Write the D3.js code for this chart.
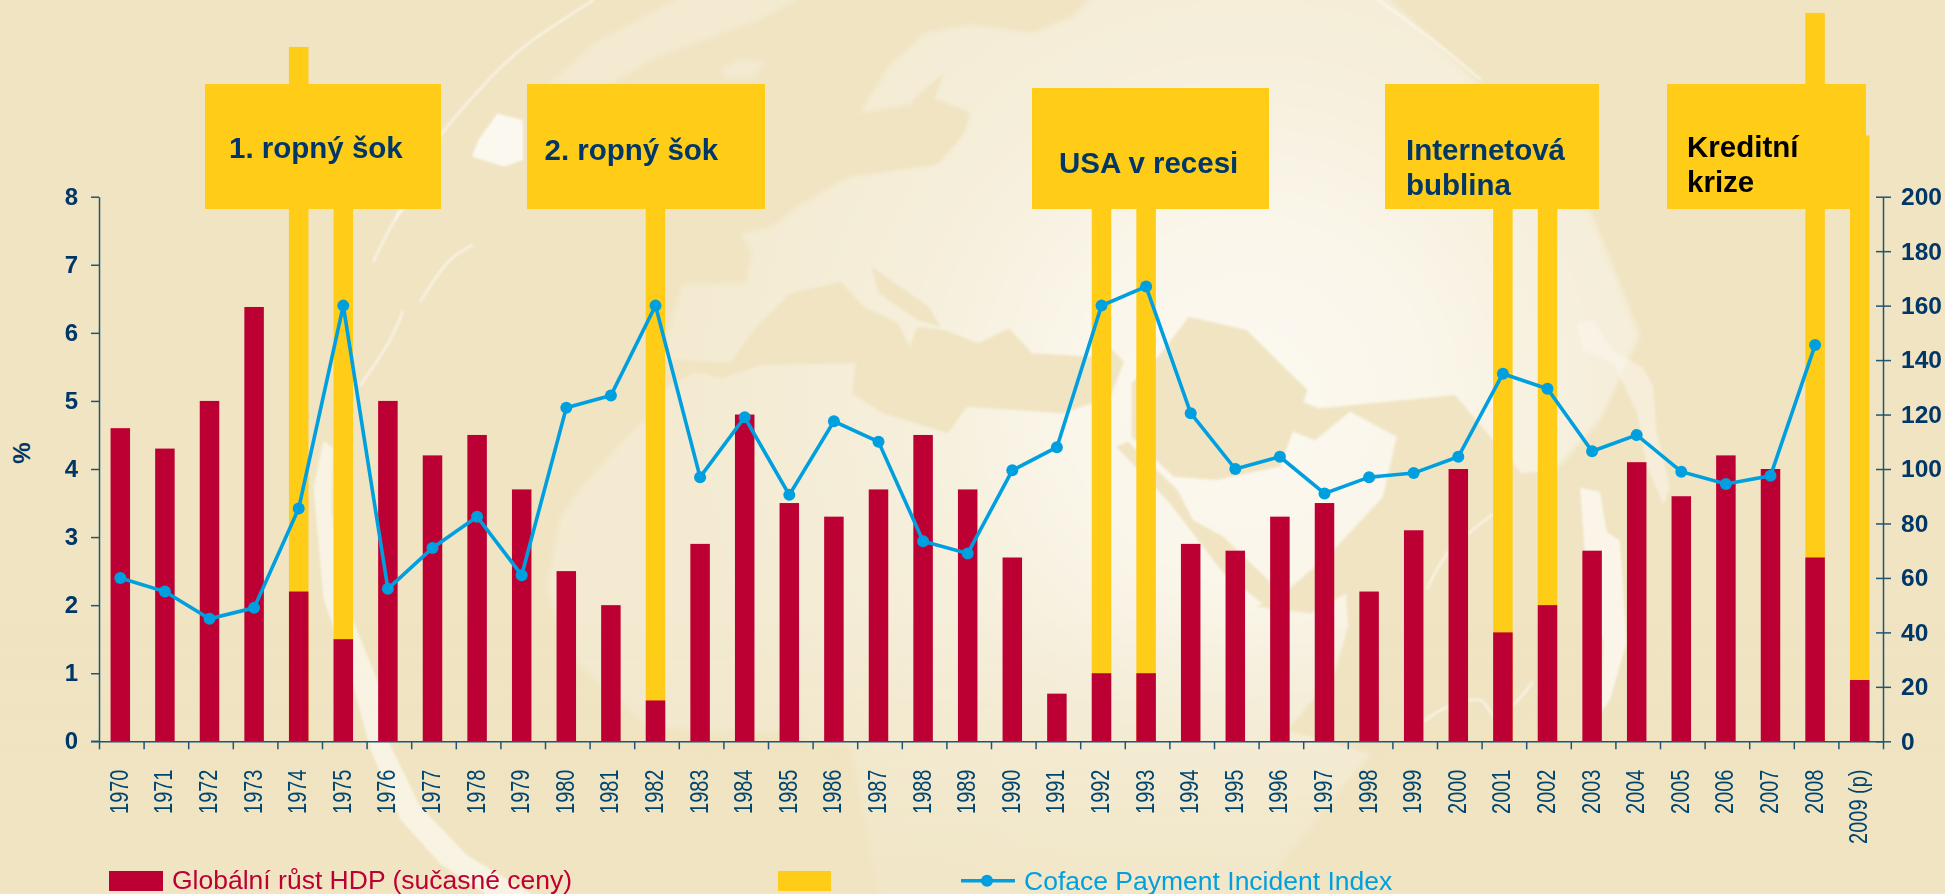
<!DOCTYPE html>
<html><head><meta charset="utf-8">
<script src="https://cdn.jsdelivr.net/npm/d3@7/dist/d3.min.js"></script>
<style>html,body{margin:0;padding:0;background:#F0E4C2;overflow:hidden}svg{display:block}text{font-family:"Liberation Sans",Arial,sans-serif}</style>
</head><body><svg id="c" width="1945" height="894"></svg>
<script>
const years=["1970","1971","1972","1973","1974","1975","1976","1977","1978","1979","1980","1981","1982","1983","1984","1985","1986","1987","1988","1989","1990","1991","1992","1993","1994","1995","1996","1997","1998","1999","2000","2001","2002","2003","2004","2005","2006","2007","2008","2009 (p)"];
const gdpGrowth=[4.6,4.3,5.0,6.38,2.2,1.5,5.0,4.2,4.5,3.7,2.5,2.0,0.6,2.9,4.8,3.5,3.3,3.7,4.5,3.7,2.7,0.7,1.0,1.0,2.9,2.8,3.3,3.5,2.2,3.1,4.0,1.6,2.0,2.8,4.1,3.6,4.2,4.0,2.7,0.9];
const crisisYears=["1974","1975","1982","1992","1993","2001","2002","2008","2009 (p)"];
const crisisValues=[10.2,9.5,9.5,9.5,9.5,9.5,9.5,10.7,8.9];
const incidentIndex=[60,55,45,49,85.5,160,56,71,82.5,61,122.5,127,160,97,119,90.5,117.5,110,73.5,69,99.5,108,160,167,120.5,100,104.5,91,97,98.5,104.5,135,129.5,106.5,112.5,99,94.5,97.5,145.5,null];
const leftTicks=[0,1,2,3,4,5,6,7,8];
const rightTicks=[0,20,40,60,80,100,120,140,160,180,200];
const boxLabels=[["1. ropný šok"],["2. ropný šok"],["USA v recesi"],["Internetová","bublina"],["Kreditní","krize"]];
const legendLabels=["Globální růst HDP (sučasné ceny)","","Coface Payment Incident Index"];

const RED="#BD0034",YEL="#FFCC18",BLUE="#009FDF",NAVY="#003768",AXIS="#1F5578",BG="#F0E4C2",WHITE="#FBF8EF";
const svg=d3.select("#c");
const defs=svg.append("defs");
defs.append("filter").attr("id","b2").attr("x","-10%").attr("y","-10%").attr("width","120%").attr("height","120%").append("feGaussianBlur").attr("stdDeviation",1);
defs.append("filter").attr("id","b3").attr("x","-10%").attr("y","-10%").attr("width","120%").attr("height","120%").append("feGaussianBlur").attr("stdDeviation",2.5);
const grad=defs.append("radialGradient").attr("id","pale").attr("gradientUnits","userSpaceOnUse").attr("cx",1250).attr("cy",400).attr("r",560);
[[0,"#FCF9F1"],[.3,"#FAF6EA"],[.65,"#F5EEDA"],[1,"#F3EAD1"]].forEach(s=>grad.append("stop").attr("offset",s[0]).attr("stop-color",s[1]));
const fade=defs.append("linearGradient").attr("id","fade").attr("gradientUnits","userSpaceOnUse").attr("x1",0).attr("y1",620).attr("x2",0).attr("y2",894);
[[0,0],[1,.65]].forEach(s=>fade.append("stop").attr("offset",s[0]).attr("stop-color",BG).attr("stop-opacity",s[1]));

// watermark globe
const bg=svg.append("g");
bg.append("rect").attr("width",1945).attr("height",894).attr("fill",BG);
const open=d3.line().curve(d3.curveCatmullRom.alpha(.5));
function poly(parent,tx,ty,sx,sy,pts){return parent.append("path").attr("transform",`translate(${tx},${ty}) scale(${sx},${sy})`).attr("d","M"+pts.map(p=>p.join(",")).join("L")+"Z");}
const pale=bg.append("g").attr("fill","url(#pale)").attr("filter","url(#b3)");
// Eurasia and Africa, in page units
poly(pale,0,0,1,1,[[740,233],[772,227],[797,207],[848,177],[937,163],[963,133],[969,113],[937,100],[860,113],[888,67],[925,33],[970,25],[1033,33],[1072,17],[1097,-10],[1380,-10],[1480,85],[1500,200],[1590,210],[1640,335],[1600,420],[1510,520],[1400,720],[1340,790],[1250,904],[880,904],[850,745],[730,735],[647,726],[573,660],[547,589],[560,518],[580,488],[613,452],[647,417],[670,328],[683,284],[746,283],[752,253]]);
// Greenland strip and island
poly(pale,440,0,.6378,.3333,[[170,250],[250,120],[380,-10],[570,-10],[500,60],[400,130],[340,170],[270,250]]);
poly(pale,440,0,.6378,.3333,[[440,210],[470,175],[510,190],[490,235],[450,235]]);
const land=bg.append("g").attr("fill",BG).attr("filter","url(#b2)");
// Mediterranean and Sahara band
poly(land,680,250,.3827,.3333,[[-120,340],[0,330],[130,340],[200,230],[290,130],[420,95],[480,170],[570,220],[600,290],[620,230],[690,240],[780,280],[860,235],[920,310],[1080,320],[1130,300],[1160,335],[1125,440],[1000,490],[750,470],[700,550],[530,490],[450,430],[460,340],[210,345],[110,385],[40,365],[-60,430]]);
poly(land,680,250,.3827,.3333,[[500,50],[650,170],[680,230],[620,210],[520,130]]);
poly(land,680,250,.3827,.3333,[[1250,320],[1330,200],[1480,240],[1568,340],[1640,420],[1568,650],[1400,690],[1290,680],[1180,560],[1180,400]]);
poly(land,680,250,.3827,.3333,[[1140,590],[1170,575],[1300,720],[1340,810],[1420,860],[1600,1060],[1568,1100],[1420,970],[1280,760]]);
poly(land,680,250,.3827,.3333,[[60,1540],[130,1440],[300,1450],[430,1540]]);
// Baltic
poly(land,440,0,.6378,.3333,[[790,220],[775,300],[830,340],[820,400],[780,490],[665,520],[660,450],[690,480],[730,450],[750,360],[740,300]]);
// Indian Ocean side
poly(land,1280,340,.389,.3333,[[-60,130],[100,205],[450,165],[620,400],[800,380],[1000,300],[1000,900],[400,1300],[20,1170],[140,1000],[175,860],[170,760],[80,820],[-60,800],[20,750],[130,640],[265,470],[300,290],[180,215],[90,300],[0,260]]);
bg.append("rect").attr("y",620).attr("width",1945).attr("height",274).attr("fill","url(#fade)");
// white swashes
const sw=bg.append("g").attr("fill",WHITE).attr("filter","url(#b2)");
poly(sw,280,200,.3333,.4424,[[130,545],[160,560],[155,700],[190,900],[225,960],[300,1100],[330,1230],[420,1370],[560,1480],[780,1580],[640,1580],[480,1500],[360,1400],[270,1240],[220,1100],[130,900],[100,650]]).attr("fill-opacity",.72);
poly(sw,440,0,.6378,.3333,[[60,420],[90,340],[130,360],[130,480],[100,500],[50,470]]);
poly(sw,1380,200,.3333,.4424,[[600,650],[660,660],[680,750],[720,770],[740,1000],[690,1130],[660,1160],[670,1000],[620,850]]).attr("fill-opacity",.85);
poly(sw,1380,200,.3333,.4424,[[590,280],[640,270],[700,340],[790,380],[820,420],[830,520],[870,650],[850,690],[800,600],[770,480],[700,370],[610,340]]).attr("fill-opacity",.5);
const thin=bg.append("g").attr("fill","none").attr("stroke",WHITE).attr("stroke-width",2.5).attr("stroke-opacity",.75).attr("filter","url(#b2)");
[[[594,0],[520,50],[470,100],[430,150],[395,220]],[[1378,0],[1430,38],[1481,80]],[[373,262],[395,220],[407,205]],[[420,302],[450,260],[473,245]],[[360,386],[390,340],[403,311]],
 [[1423,722],[1443,709],[1480,700],[1497,717],[1533,682]],[[1427,589],[1447,554],[1493,514]]].forEach(p=>thin.append("path").attr("d",open(p)));

// scales
const x=d3.scaleBand().domain(years).range([99,1883]);
const xEdge=d3.scaleLinear().domain([0,40]).range([99,1883]);
const yL=d3.scaleLinear().domain([0,8]).range([741.3,196.7]);
const yR=d3.scaleLinear().domain([0,200]).range([741.3,196.7]);
const cx=d=>x(d)+x.bandwidth()/2-1;
const bw=19.5;

// bars
svg.append("g").selectAll("rect").data(crisisYears.map((y,i)=>({y,v:crisisValues[i]}))).join("rect")
 .attr("x",d=>cx(d.y)-bw/2).attr("width",bw).attr("y",d=>yL(d.v)).attr("height",d=>yL(0)-yL(d.v)).attr("fill",YEL);
svg.append("g").selectAll("rect").data(years.map((y,i)=>({y,v:gdpGrowth[i]}))).join("rect")
 .attr("x",d=>cx(d.y)-bw/2).attr("width",bw).attr("y",d=>yL(d.v)).attr("height",d=>yL(0)-yL(d.v)).attr("fill",RED);

// annotation boxes
const boxFrames=[[205,84,236,125],[527,84,238,125],[1032,88,237,121],[1385,84,214,125],[1667,84,199,125]];
svg.append("g").selectAll("rect").data(boxFrames).join("rect").attr("x",d=>d[0]).attr("y",d=>d[1]).attr("width",d=>d[2]).attr("height",d=>d[3]).attr("fill",YEL);
const boxText=[[229,157.5,NAVY],[544.5,160,NAVY],[1059,172.5,NAVY],[1406,160,NAVY],[1687,157,"#000"]];
boxLabels.forEach((ls,i)=>ls.forEach((t,j)=>svg.append("text").attr("x",boxText[i][0]).attr("y",boxText[i][1]+j*35).attr("font-size",29.5).attr("font-weight","bold").attr("fill",boxText[i][2]).text(t)));

// axes
function styleAxis(g){g.selectAll(".domain,line").attr("stroke",AXIS).attr("stroke-width",1.5);}
const axL=svg.append("g").attr("transform","translate(99,0)").call(d3.axisLeft(yL).tickValues(leftTicks).tickSize(8).tickSizeOuter(0).tickPadding(13)).call(styleAxis);
axL.selectAll("text").attr("font-size",24).attr("font-weight","bold").attr("fill",NAVY).attr("font-family",null);
const axR=svg.append("g").attr("transform","translate(1883,0)").call(d3.axisRight(yR).tickValues(rightTicks).tickSize(8).tickSizeOuter(0).tickPadding(10)).call(styleAxis);
axR.selectAll("line").attr("x1",-7);
axR.selectAll("text").attr("font-size",24.5).attr("font-weight","bold").attr("fill",NAVY).attr("font-family",null);
svg.append("g").attr("transform","translate(0,741.3)").call(d3.axisBottom(xEdge).tickValues(d3.range(41)).tickSize(8).tickSizeOuter(0).tickFormat("")).call(styleAxis);
svg.append("line").attr("x1",91).attr("x2",99).attr("y1",741.3).attr("y2",741.3).attr("stroke",AXIS).attr("stroke-width",1.5);
svg.append("g").selectAll("text").data(years).join("text")
 .attr("transform",d=>`translate(${cx(d)+7.5},769.5) rotate(-90) scale(.8,1)`).attr("text-anchor","end").attr("font-size",25).attr("fill","#00456F").text(d=>d);
svg.append("text").attr("transform","translate(30,453) rotate(-90)").attr("text-anchor","middle").attr("font-size",24).attr("font-weight","bold").attr("fill",NAVY).text("%");

// line
const idx=years.map((y,i)=>({y,v:incidentIndex[i]})).filter(d=>d.v!==null);
svg.append("path").attr("fill","none").attr("stroke",BLUE).attr("stroke-width",3.6).attr("d",d3.line().x(d=>cx(d.y)).y(d=>yR(d.v))(idx));
svg.append("g").selectAll("circle").data(idx).join("circle").attr("cx",d=>cx(d.y)).attr("cy",d=>yR(d.v)).attr("r",6).attr("fill",BLUE);

// legend
const lg=svg.append("g");
lg.append("rect").attr("x",109).attr("y",871).attr("width",54).attr("height",20).attr("fill",RED);
lg.append("text").attr("x",172).attr("y",889).attr("font-size",26.5).attr("fill",RED).text(legendLabels[0]);
lg.append("rect").attr("x",778).attr("y",871).attr("width",53).attr("height",20).attr("fill",YEL);
lg.append("line").attr("x1",961).attr("x2",1015).attr("y1",880.7).attr("y2",880.7).attr("stroke",BLUE).attr("stroke-width",3.6);
lg.append("circle").attr("cx",987).attr("cy",880.7).attr("r",6).attr("fill",BLUE);
lg.append("text").attr("x",1024).attr("y",889.5).attr("font-size",26.5).attr("fill",BLUE).text(legendLabels[2]);
</script></body></html>
